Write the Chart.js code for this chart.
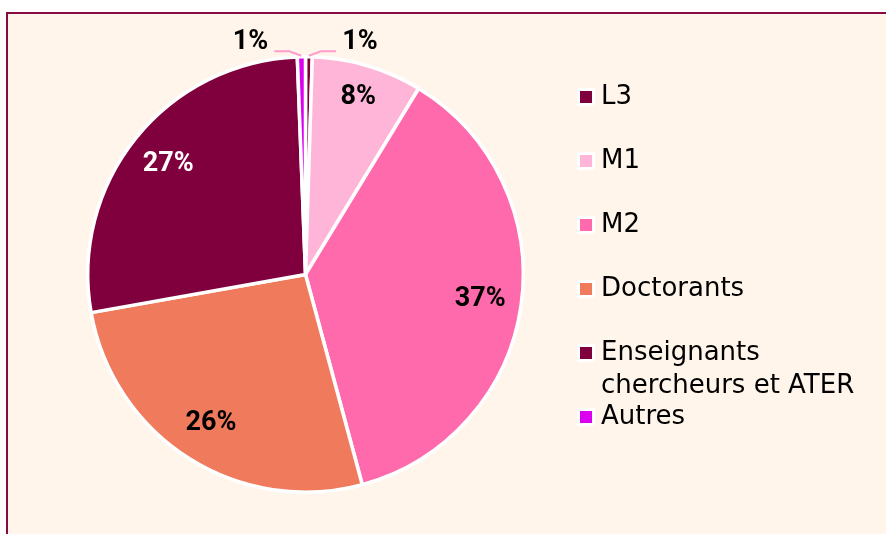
<!DOCTYPE html>
<html>
<head>
<meta charset="utf-8">
<script src="https://cdn.jsdelivr.net/npm/chart.js@4"></script>
<style>
html, body { margin: 0; padding: 0; background: #fff; width: 886px; height: 534px; overflow: hidden; position: relative; }
#frame { position: absolute; left: 6px; top: 12px; width: 900px; height: 540px; border-top: 2px solid #860b40; border-left: 2px solid #860b40; background: #fff5eb; }
#chart { position: absolute; left: 0; top: 0; }
</style>
</head>
<body>
<div id="frame"></div>
<canvas id="chart" width="886" height="534"></canvas>
<script>
// --- Data ---
const categories = ['L3', 'M1', 'M2', 'Doctorants', 'Enseignants chercheurs et ATER', 'Autres'];
const shares = [0.5, 8.2, 37.1, 26.4, 27.2, 0.6];
const sliceColors = ['#80003d', '#ffb5d8', '#ff6aad', '#f07b5c', '#80003d', '#dc00f0'];

function isDark(hex) {
    const n = parseInt(hex.slice(1), 16);
    const r = n >> 16, g = (n >> 8) & 255, b = n & 255;
    return (0.299 * r + 0.587 * g + 0.114 * b) < 110;
}

// --- Percent labels (inside, or outside with a leader line for tiny slices) ---
const pieLabels = {
    id: 'pieLabels',
    afterDatasetsDraw(chart) {
        const ctx = chart.ctx;
        const total = shares.reduce((a, b) => a + b, 0);
        ctx.save();
        ctx.font = 'bold 27px Roboto';
        ctx.textAlign = 'center';
        ctx.textBaseline = 'middle';
        chart.getDatasetMeta(0).data.forEach((arc, i) => {
            const p = arc.getProps(['x', 'y', 'startAngle', 'endAngle', 'outerRadius'], true);
            const mid = (p.startAngle + p.endAngle) / 2;
            const txt = Math.max(1, Math.round(shares[i] / total * 100)) + '%';
            if (shares[i] < 3) {
                const side = Math.cos(mid) >= 0 ? 1 : -1;
                const ex = p.x + Math.cos(mid) * (p.outerRadius + 1);
                const ey = p.y + Math.sin(mid) * (p.outerRadius + 1);
                const kx = ex + side * 12, ky = p.y - p.outerRadius - 5.5;
                const hx = kx + side * 15;
                ctx.strokeStyle = '#ff9ccc';
                ctx.lineWidth = 2;
                ctx.beginPath();
                ctx.moveTo(ex, ey);
                ctx.lineTo(kx, ky);
                ctx.lineTo(hx, ky);
                ctx.stroke();
                ctx.fillStyle = '#000';
                ctx.fillText(txt, hx + side * 24, ky - 9);
            } else {
                const k = shares[i] < 10 ? 0.85 : 0.81;
                const lx = p.x + Math.cos(mid) * p.outerRadius * k;
                const ly = p.y + Math.sin(mid) * p.outerRadius * k;
                ctx.fillStyle = isDark(sliceColors[i]) ? '#fff' : '#000';
                ctx.fillText(txt, lx, ly);
            }
        });
        ctx.restore();
    }
};

// --- Legend on the right, fixed row pitch like the original ---
const sideLegend = {
    id: 'sideLegend',
    afterDraw(chart) {
        const ctx = chart.ctx;
        const boxX = 580, boxSize = 12, textX = 601, top = 97, pitch = 64, lineH = 33, maxW = 280;
        ctx.save();
        ctx.font = '26px "DejaVu Sans"';
        ctx.textAlign = 'left';
        ctx.textBaseline = 'middle';
        categories.forEach((name, i) => {
            const y = top + i * pitch;
            ctx.fillStyle = '#fff';
            ctx.fillRect(boxX - 3, y - boxSize / 2 - 3, boxSize + 6, boxSize + 6);
            ctx.fillStyle = sliceColors[i];
            ctx.fillRect(boxX, y - boxSize / 2, boxSize, boxSize);
            // word wrap
            const lines = [];
            let cur = '';
            name.split(' ').forEach(w => {
                const t = cur ? cur + ' ' + w : w;
                if (ctx.measureText(t).width > maxW && cur) { lines.push(cur); cur = w; }
                else cur = t;
            });
            lines.push(cur);
            ctx.fillStyle = '#000';
            lines.forEach((ln, j) => ctx.fillText(ln, textX, y + j * lineH));
        });
        ctx.restore();
    }
};

new Chart(document.getElementById('chart').getContext('2d'), {
    type: 'pie',
    data: {
        labels: categories,
        datasets: [{
            data: shares,
            backgroundColor: sliceColors,
            borderColor: '#fff',
            borderWidth: 3.5
        }]
    },
    options: {
        responsive: false,
        animation: false,
        devicePixelRatio: 1,
        layout: { padding: { left: 86, top: 55, right: 361, bottom: 40 } },
        plugins: { legend: { display: false }, tooltip: { enabled: false } }
    },
    plugins: [pieLabels, sideLegend]
});
</script>
</body>
</html>
